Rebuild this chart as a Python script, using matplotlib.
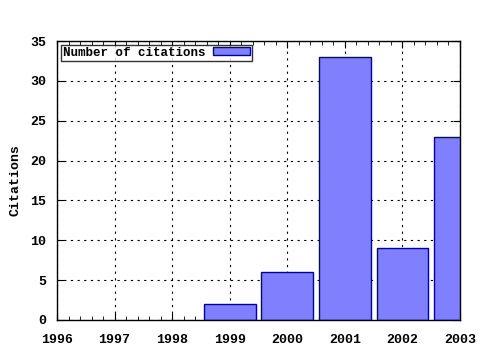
import matplotlib
matplotlib.use("Agg")
import matplotlib.pyplot as plt
from matplotlib.ticker import MultipleLocator

years = [1999, 2000, 2001, 2002, 2003]
citations = [2, 6, 33, 9, 23]
year_ticks = [1996, 1997, 1998, 1999, 2000, 2001, 2002, 2003]

plt.rcParams['font.family'] = ['Liberation Mono', 'DejaVu Sans Mono']
plt.rcParams['font.weight'] = 'bold'

fig = plt.figure(figsize=(4.8, 3.5), dpi=100)
ax = fig.add_axes([57 / 480, 30 / 350, 403 / 480, 279 / 350])

ax.bar(years, citations, width=0.9, color='#8080ff', edgecolor='#0000a0',
       linewidth=1, label='Number of citations', zorder=2)

ax.set_xlim(1996, 2003)
ax.set_ylim(0, 35)
ax.set_xticks(year_ticks)
ax.set_xticklabels([str(y) for y in year_ticks])
ax.xaxis.set_minor_locator(MultipleLocator(0.2))
ax.yaxis.set_major_locator(MultipleLocator(5))

ax.grid(True, which='major', linestyle=(0, (2, 4)), color='black', linewidth=0.8, zorder=0)
ax.tick_params(which='both', direction='in', top=True, right=True, labelsize=9.5)
ax.tick_params(which='major', length=5)
ax.tick_params(which='minor', length=3)
ax.tick_params(axis='x', which='major', pad=10)
ax.tick_params(axis='y', which='major', pad=8)
for s in ax.spines.values():
    s.set_linewidth(1)

ax.set_ylabel('Citations', fontsize=9.5, fontweight='bold', labelpad=6)

leg = ax.legend(loc='upper left', fontsize=9, frameon=True, fancybox=False,
                borderpad=0.15, handlelength=3, handleheight=0.6,
                borderaxespad=0.3, markerfirst=False, handletextpad=0.6)
leg.get_frame().set_edgecolor('black')
leg.get_frame().set_linewidth(1)

fig.savefig('out.png', dpi=100)
